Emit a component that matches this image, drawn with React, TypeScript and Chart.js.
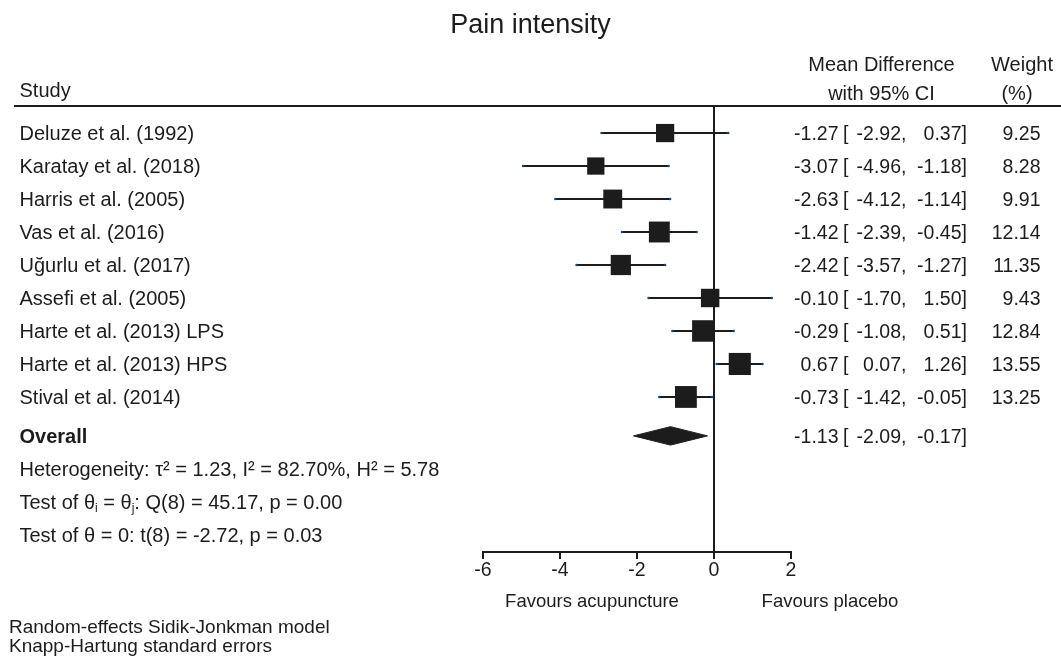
import React, { useEffect, useRef } from "react";
import { Chart, registerables } from "chart.js";

Chart.register(...registerables);

// ---------------- data ----------------
const chartTitle = "Pain intensity";
const studies = [
  "Deluze et al. (1992)",
  "Karatay et al. (2018)",
  "Harris et al. (2005)",
  "Vas et al. (2016)",
  "Uğurlu et al. (2017)",
  "Assefi et al. (2005)",
  "Harte et al. (2013) LPS",
  "Harte et al. (2013) HPS",
  "Stival et al. (2014)",
];
const meanDiff = [-1.27, -3.07, -2.63, -1.42, -2.42, -0.1, -0.29, 0.67, -0.73];
const ciLower = [-2.92, -4.96, -4.12, -2.39, -3.57, -1.7, -1.08, 0.07, -1.42];
const ciUpper = [0.37, -1.18, -1.14, -0.45, -1.27, 1.5, 0.51, 1.26, -0.05];
const weights = [9.25, 8.28, 9.91, 12.14, 11.35, 9.43, 12.84, 13.55, 13.25];
const overallLabel = "Overall";
const overallEffect = [-1.13, -2.09, -0.17]; // estimate, lower, upper
const xTicks = [-6, -4, -2, 0, 2];
const xMin = -6;
const xMax = 2;
const headerStudy = "Study";
const headerEffect = ["Mean Difference", "with 95% CI"];
const headerWeight = ["Weight", "(%)"];
const favoursLeft = "Favours acupuncture";
const favoursRight = "Favours placebo";
const footnotes = ["Random-effects Sidik-Jonkman model", "Knapp-Hartung standard errors"];
type Seg = { t: string; sub?: boolean };
const statLines: Seg[][] = [
  [{ t: "Heterogeneity: τ² = 1.23, I² = 82.70%, H² = 5.78" }],
  [{ t: "Test of θ" }, { t: "i", sub: true }, { t: " = θ" }, { t: "j", sub: true }, { t: ": Q(8) = 45.17, p = 0.00" }],
  [{ t: "Test of θ = 0: t(8) = -2.72, p = 0.03" }],
];

// ---------------- style ----------------
const FONT = '"Liberation Sans", Arial, Helvetica, sans-serif';
const INK = "#1c1c1c";
const CI_END = "#1a476f";
const OVERALL_GAP = 0.18;
const DIAMOND_HALF = 0.28;

const fmt = (v: number) => v.toFixed(2);

function drawRich(ctx: CanvasRenderingContext2D, segs: Seg[], x: number, y: number, size: number) {
  let cx = x;
  ctx.textAlign = "left";
  for (const s of segs) {
    if (s.sub) {
      ctx.font = `${size * 0.6}px ${FONT}`;
      ctx.fillText(s.t, cx, y + size * 0.18);
    } else {
      ctx.font = `${size}px ${FONT}`;
      ctx.fillText(s.t, cx, y);
    }
    cx += ctx.measureText(s.t).width;
  }
}

const textPlugin = {
  id: "forestText",
  afterDraw(chart: any) {
    const ctx: CanvasRenderingContext2D = chart.ctx;
    const yS = chart.scales.y;
    const area = chart.chartArea;
    ctx.save();
    ctx.fillStyle = INK;
    ctx.textBaseline = "alphabetic";

    // title
    ctx.font = `27px ${FONT}`;
    ctx.textAlign = "center";
    ctx.fillText(chartTitle, 530.5, 33);

    // headers
    ctx.font = `20px ${FONT}`;
    ctx.textAlign = "left";
    ctx.fillText(headerStudy, 19.5, 97);
    ctx.textAlign = "center";
    ctx.fillText(headerEffect[0], 881.5, 71);
    ctx.fillText(headerEffect[1], 881.5, 100);
    ctx.fillText(headerWeight[0], 1022, 71);
    ctx.fillText(headerWeight[1], 1017, 100);

    // header rule
    ctx.strokeStyle = INK;
    ctx.lineWidth = 2;
    ctx.beginPath();
    ctx.moveTo(14, area.top);
    ctx.lineTo(1061, area.top);
    ctx.stroke();

    const drawEffect = (est: number, lo: number, hi: number, base: number) => {
      ctx.font = `19.5px ${FONT}`;
      ctx.textAlign = "right";
      ctx.fillText(fmt(est), 838.5, base);
      ctx.textAlign = "left";
      ctx.fillText("[", 843, base);
      ctx.textAlign = "right";
      ctx.fillText(fmt(lo), 901, base);
      ctx.textAlign = "left";
      ctx.fillText(",", 901, base);
      ctx.textAlign = "right";
      ctx.fillText(fmt(hi), 961.5, base);
      ctx.textAlign = "left";
      ctx.fillText("]", 961.5, base);
    };

    studies.forEach((name, i) => {
      const base = yS.getPixelForValue(i) + 7;
      ctx.font = `20px ${FONT}`;
      ctx.textAlign = "left";
      ctx.fillText(name, 19.5, base);
      drawEffect(meanDiff[i], ciLower[i], ciUpper[i], base);
      ctx.textAlign = "right";
      ctx.fillText(fmt(weights[i]), 1040.5, base);
    });

    const n = studies.length;
    const ob = yS.getPixelForValue(n + OVERALL_GAP) + 7;
    ctx.font = `bold 20px ${FONT}`;
    ctx.textAlign = "left";
    ctx.fillText(overallLabel, 19.5, ob);
    drawEffect(overallEffect[0], overallEffect[1], overallEffect[2], ob);

    statLines.forEach((segs, k) => {
      const b = yS.getPixelForValue(n + OVERALL_GAP + 1 + k) + 7;
      drawRich(ctx, segs, 19.5, b, 20);
    });

    // favours labels
    ctx.font = `18.5px ${FONT}`;
    ctx.textAlign = "center";
    ctx.fillText(favoursLeft, 592, 606.5);
    ctx.fillText(favoursRight, 830, 606.5);

    // footnotes
    ctx.font = `19px ${FONT}`;
    ctx.textAlign = "left";
    ctx.fillText(footnotes[0], 9, 633);
    ctx.fillText(footnotes[1], 9, 651.5);

    ctx.restore();
  },
};

export default function App() {
  const ref = useRef<HTMLCanvasElement | null>(null);

  useEffect(() => {
    if (!ref.current) return;
    const n = studies.length;
    const oy = n + OVERALL_GAP;

    const ciSets = studies.map((_, i) => ({
      type: "scatter" as const,
      data: [
        { x: ciLower[i], y: i },
        { x: ciUpper[i], y: i },
      ],
      showLine: true,
      borderColor: INK,
      borderWidth: 2,
      pointRadius: 1.3,
      pointBackgroundColor: CI_END,
      pointBorderWidth: 0,
      order: 2,
    }));

    const squares = {
      type: "scatter" as const,
      data: studies.map((_, i) => ({ x: meanDiff[i], y: i })),
      pointStyle: "rect" as const,
      pointRadius: weights.map((w) => (6 * Math.sqrt(w)) / Math.SQRT2),
      pointBackgroundColor: INK,
      pointBorderWidth: 0,
      showLine: false,
      order: 0,
    };

    const diamond = {
      type: "scatter" as const,
      data: [
        { x: overallEffect[1], y: oy },
        { x: overallEffect[0], y: oy - DIAMOND_HALF },
        { x: overallEffect[2], y: oy },
        { x: overallEffect[0], y: oy + DIAMOND_HALF },
        { x: overallEffect[1], y: oy },
      ],
      showLine: true,
      fill: "shape" as const,
      backgroundColor: INK,
      borderColor: INK,
      borderWidth: 1,
      pointRadius: 0,
      tension: 0,
      order: 0,
    };

    const chart = new Chart(ref.current, {
      type: "scatter",
      data: { datasets: [squares, diamond, ...ciSets] as any },
      options: {
        animation: false,
        responsive: false,
        devicePixelRatio: 1,
        events: [],
        layout: { padding: { left: 483, right: 270, top: 106, bottom: 55 } },
        plugins: { legend: { display: false }, tooltip: { enabled: false }, title: { display: false } },
        scales: {
          x: {
            type: "linear",
            min: xMin,
            max: xMax,
            afterBuildTicks: (scale: any) => {
              scale.ticks = xTicks.map((v) => ({ value: v }));
            },
            afterFit: (scale: any) => {
              scale.height = 50;
            },
            border: { display: true, color: INK, width: 2 },
            grid: {
              drawOnChartArea: true,
              drawTicks: true,
              tickLength: 7,
              tickColor: INK,
              tickWidth: 2,
              lineWidth: 2,
              color: (c: any) => (c.tick && c.tick.value === 0 ? INK : "rgba(0,0,0,0)"),
            },
            ticks: {
              color: INK,
              padding: 0,
              font: { family: FONT, size: 19.5 },
              callback: (v: any) => String(v),
            },
          },
          y: {
            type: "linear",
            reverse: true,
            min: -0.82,
            max: 12.7,
            display: false,
          },
        },
      },
      plugins: [textPlugin],
    });
    return () => chart.destroy();
  }, []);

  return (
    <div style={{ position: "fixed", left: 0, top: 0, width: 1061, height: 657, background: "#fff" }}>
      <canvas ref={ref} width={1061} height={657} style={{ display: "block" }} />
    </div>
  );
}
